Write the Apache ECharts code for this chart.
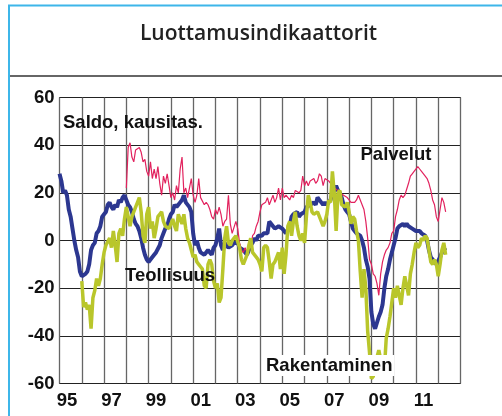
<!DOCTYPE html>
<html>
<head>
<meta charset="utf-8">
<script src="https://cdn.jsdelivr.net/npm/echarts@6/dist/echarts.min.js"></script>
<style>
    html, body { margin: 0; padding: 0; background: #fff; }
    #chart { width: 502px; height: 416px; }
</style>
</head>
<body>
<div id="chart"></div>
<script>
var firstYear = 1995;

// Teollisuus, kuukausittain tammikuusta 1995
var teollisuusStart = 0;
var teollisuus = [
    28, 25, 20, 21, 19, 13, 10, 5, 0, -4, -7, -13,
    -15, -15, -14, -13, -10, -4, -2, -1, 3, 4, 6, 10,
    11, 12, 15, 16, 14, 13, 15, 14, 17, 16, 18, 19,
    17, 15, 14, 12, 9, 7, 6, 4, 1, -3, -6, -8,
    -9, -8, -8, -6, -5, -5, -2, 1, 3, 5, 6, 9,
    11, 12, 15, 14, 15, 16, 17, 19, 16, 16, 14, 12,
    3, -2, 0, -3, -5, -5, -6, -5, -4, -5, -6, -3,
    -2, 1, 5, -2, -4, -1, -2, -3, -3, -2, -1, -1,
    -1, -3, -3, -4, -5, -6, -4, -2, -1, 1, 0, 2,
    2, 2, 3, 3, 3, 8, 8, 6, 5, 5, 6, 6,
    5, 4, 3, 3, 6, 10, 11, 11, 12, 10, 11, 11,
    12, 14, 14, 15, 15, 16, 15, 18, 17, 16, 15, 16,
    15, 16, 17, 20, 21, 23, 21, 20, 18, 15, 13, 12,
    11, 8, 5, 4, 3, 3, 2, 0, -3, -8, -11, -16,
    -30, -35, -37, -37, -32, -30, -27, -20, -15, -12, -8, -5,
    -2, 1, 5, 6, 6, 7, 6, 7, 6, 6, 5, 5,
    4, 4, 4, 3, 3, 2, 0, -4, -7, -8, -9, -10,
    -10, -7, -5, -4, -3
];

// Rakentaminen, alkaa tammikuusta 1996
var rakentaminenStart = 12;
var rakentaminen = [
    -17, -28, -26, -29, -27, -37, -24, -21, -16, -19, -16, -10,
    -5, -2, -2, 1, -3, 4, -2, -9, 3, 5, 2, 9,
    14, 10, 6, 10, 10, 14, 16, 18, 12, 2, -1, 11,
    14, 5, 8, 1, 5, 10, 11, 12, 8, 6, 6, 5,
    5, 9, 6, 4, 11, 9, 7, 11, 5, 1, -1, -4,
    -7, -6, -9, -10, -11, -12, -19, -20, -10, -8, -10, -17,
    -20, -18, -26, -24, -12, 1, 6, -1, -2, 0, 0, 2,
    2, -3, -8, -10, -8, -6, -2, 1, -5, -5, -7, -8,
    -10, -13, -3, -2, -3, -9, -16, -10, -9, -7, -5, -12,
    -3, -14, -6, 6, 8, 2, 8, 12, 6, 2, 0, 3,
    -1, 10, 19, 16, 12, 11, 11, 12, 10, 8, 6, 8,
    11, 17, 16, 29, 20, 4, 20, 21, 15, 15, 14, 16,
    12, 7, 10, 9, 4, 0, -13, -24, -12, -20, -38, -47,
    -58, -57, -53, -49, -46, -50, -52, -54, -41, -37, -32, -26,
    -20, -24, -19, -23, -27, -20, -15, -19, -23, -14, -10, -5,
    -1, -3, -2, 1, 0, 2, 1, -4, -9, -10, -8, -10,
    -15, -10, -4, -1, -6
];

// Palvelut, alkaa tammikuusta 1998
var palvelutStart = 36;
var palvelut = [
    22, 39, 41, 35, 33, 38, 38, 39, 37, 33, 34, 29,
    27, 33, 26, 30, 26, 31, 24, 19, 27, 24, 28, 23,
    18, 20, 17, 23, 20, 30, 35, 20, 22, 18, 22, 26,
    19, 16, 19, 26, 18, 18, 15, 16, 15, 13, 10, 9,
    13, 11, 14, 11, 6, 8, 9, 19, 7, 3, 3, 8,
    5, -1, -4, -5, -3, -5, -1, -3, 2, 3, 6, 8,
    12, 15, 15, 16, 18, 15, 17, 19, 16, 18, 22, 17,
    22, 18, 19, 19, 17, 19, 18, 21, 21, 20, 21, 27,
    23, 25, 23, 25, 25, 26, 24, 25, 28, 27, 23, 26,
    26, 25, 24, 23, 22, 22, 21, 20, 20, 19, 19, 18,
    18, 16, 16, 16, 17, 19, 17, 15, 13, 8, 1, -8,
    -10, -14, -15, -18, -23, -14, -9, -6, -4, -3, -1, 3,
    4, 10, 13, 17, 19, 18, 19, 19, 24, 27, 28, 29,
    29, 31, 30, 29, 29, 27, 26, 24, 21, 17, 15, 10,
    8, 13, 18, 16, 12
];

var labelYears = [1995, 1997, 1999, 2001, 2003, 2005, 2007, 2009, 2011];

var toPoints = function (start, values) {
    var out = [];
    for (var i = 0; i < values.length; i++) {
        out.push([firstYear + (start + i) / 12, values[i]]);
    }
    return out;
};

var labelFont = '"Liberation Sans", Arial, sans-serif';

var myChart = echarts.init(document.getElementById('chart'));
var option = {
    animation: false,
    backgroundColor: '#fff',
    grid: {
        left: 59.5,
        right: 41.5,
        top: 97.5,
        bottom: 32.5,
        show: true,
        borderColor: '#222',
        borderWidth: 1
    },
    xAxis: {
        type: 'value',
        min: 1995,
        max: 2013,
        interval: 1,
        axisLine: {show: false},
        axisTick: {show: false},
        splitLine: {show: true, lineStyle: {color: '#666', width: 1.3}},
        axisLabel: {
            showMinLabel: true,
            showMaxLabel: true,
            formatter: function (v) {
                return labelYears.indexOf(Math.round(v)) >= 0 ? String(Math.round(v)).slice(2) : '';
            },
            fontFamily: labelFont,
            fontWeight: 'bold',
            fontSize: 18.5,
            color: '#111',
            margin: 8,
            padding: [0, 0, 0, 15]
        }
    },
    yAxis: {
        type: 'value',
        min: -60,
        max: 60,
        interval: 20,
        axisLine: {show: false},
        axisTick: {show: false},
        splitLine: {show: true, lineStyle: {color: '#222', width: 1}},
        axisLabel: {
            fontFamily: labelFont,
            fontWeight: 'bold',
            fontSize: 18.5,
            color: '#111',
            margin: 5
        }
    },
    series: [
        {
            name: 'Teollisuus',
            type: 'line',
            data: toPoints(teollisuusStart, teollisuus),
            showSymbol: false,
            symbol: 'none',
            z: 2,
            lineStyle: {color: '#2c3790', width: 4}
        },
        {
            name: 'Palvelut',
            type: 'line',
            data: toPoints(palvelutStart, palvelut),
            showSymbol: false,
            symbol: 'none',
            z: 3,
            lineStyle: {color: '#e2225e', width: 1.2}
        },
        {
            name: 'Rakentaminen',
            type: 'line',
            data: toPoints(rakentaminenStart, rakentaminen),
            showSymbol: false,
            symbol: 'none',
            z: 4,
            lineStyle: {color: '#b9c62b', width: 3.5}
        }
    ],
    graphic: [
        {
            type: 'rect',
            z: 50,
            shape: {x: 9, y: 5.5, width: 620, height: 600},
            style: {fill: 'none', stroke: '#3db6e9', lineWidth: 2}
        },
        {
            type: 'line',
            z: 50,
            shape: {x1: 10, y1: 76, x2: 502, y2: 76},
            style: {stroke: '#333', lineWidth: 1.5}
        },
        {
            type: 'text',
            z: 50,
            x: 258.5,
            y: 34,
            style: {
                text: 'Luottamusindikaattorit',
                font: '600 21px "Open Sans", sans-serif',
                fill: '#222',
                textAlign: 'center',
                textVerticalAlign: 'middle'
            }
        },
        {
            type: 'text',
            z: 50,
            x: 63,
            y: 122.5,
            style: {
                text: 'Saldo, kausitas.',
                font: 'bold 18.5px ' + labelFont,
                fill: '#111',
                textVerticalAlign: 'middle'
            }
        },
        {
            type: 'text',
            z: 50,
            x: 360.5,
            y: 155,
            style: {
                text: 'Palvelut',
                font: 'bold 18.5px ' + labelFont,
                fill: '#111',
                textVerticalAlign: 'middle'
            }
        },
        {
            type: 'text',
            z: 50,
            x: 125,
            y: 276,
            style: {
                text: 'Teollisuus',
                font: 'bold 18.5px ' + labelFont,
                fill: '#111',
                textVerticalAlign: 'middle'
            }
        },
        {
            type: 'text',
            z: 50,
            x: 264,
            y: 365.5,
            style: {
                text: 'Rakentaminen',
                font: 'bold 18.5px ' + labelFont,
                fill: '#111',
                textVerticalAlign: 'middle',
                backgroundColor: '#fff',
                padding: [1, 2, 1, 2]
            }
        }
    ]
};
myChart.setOption(option);
</script>
</body>
</html>
